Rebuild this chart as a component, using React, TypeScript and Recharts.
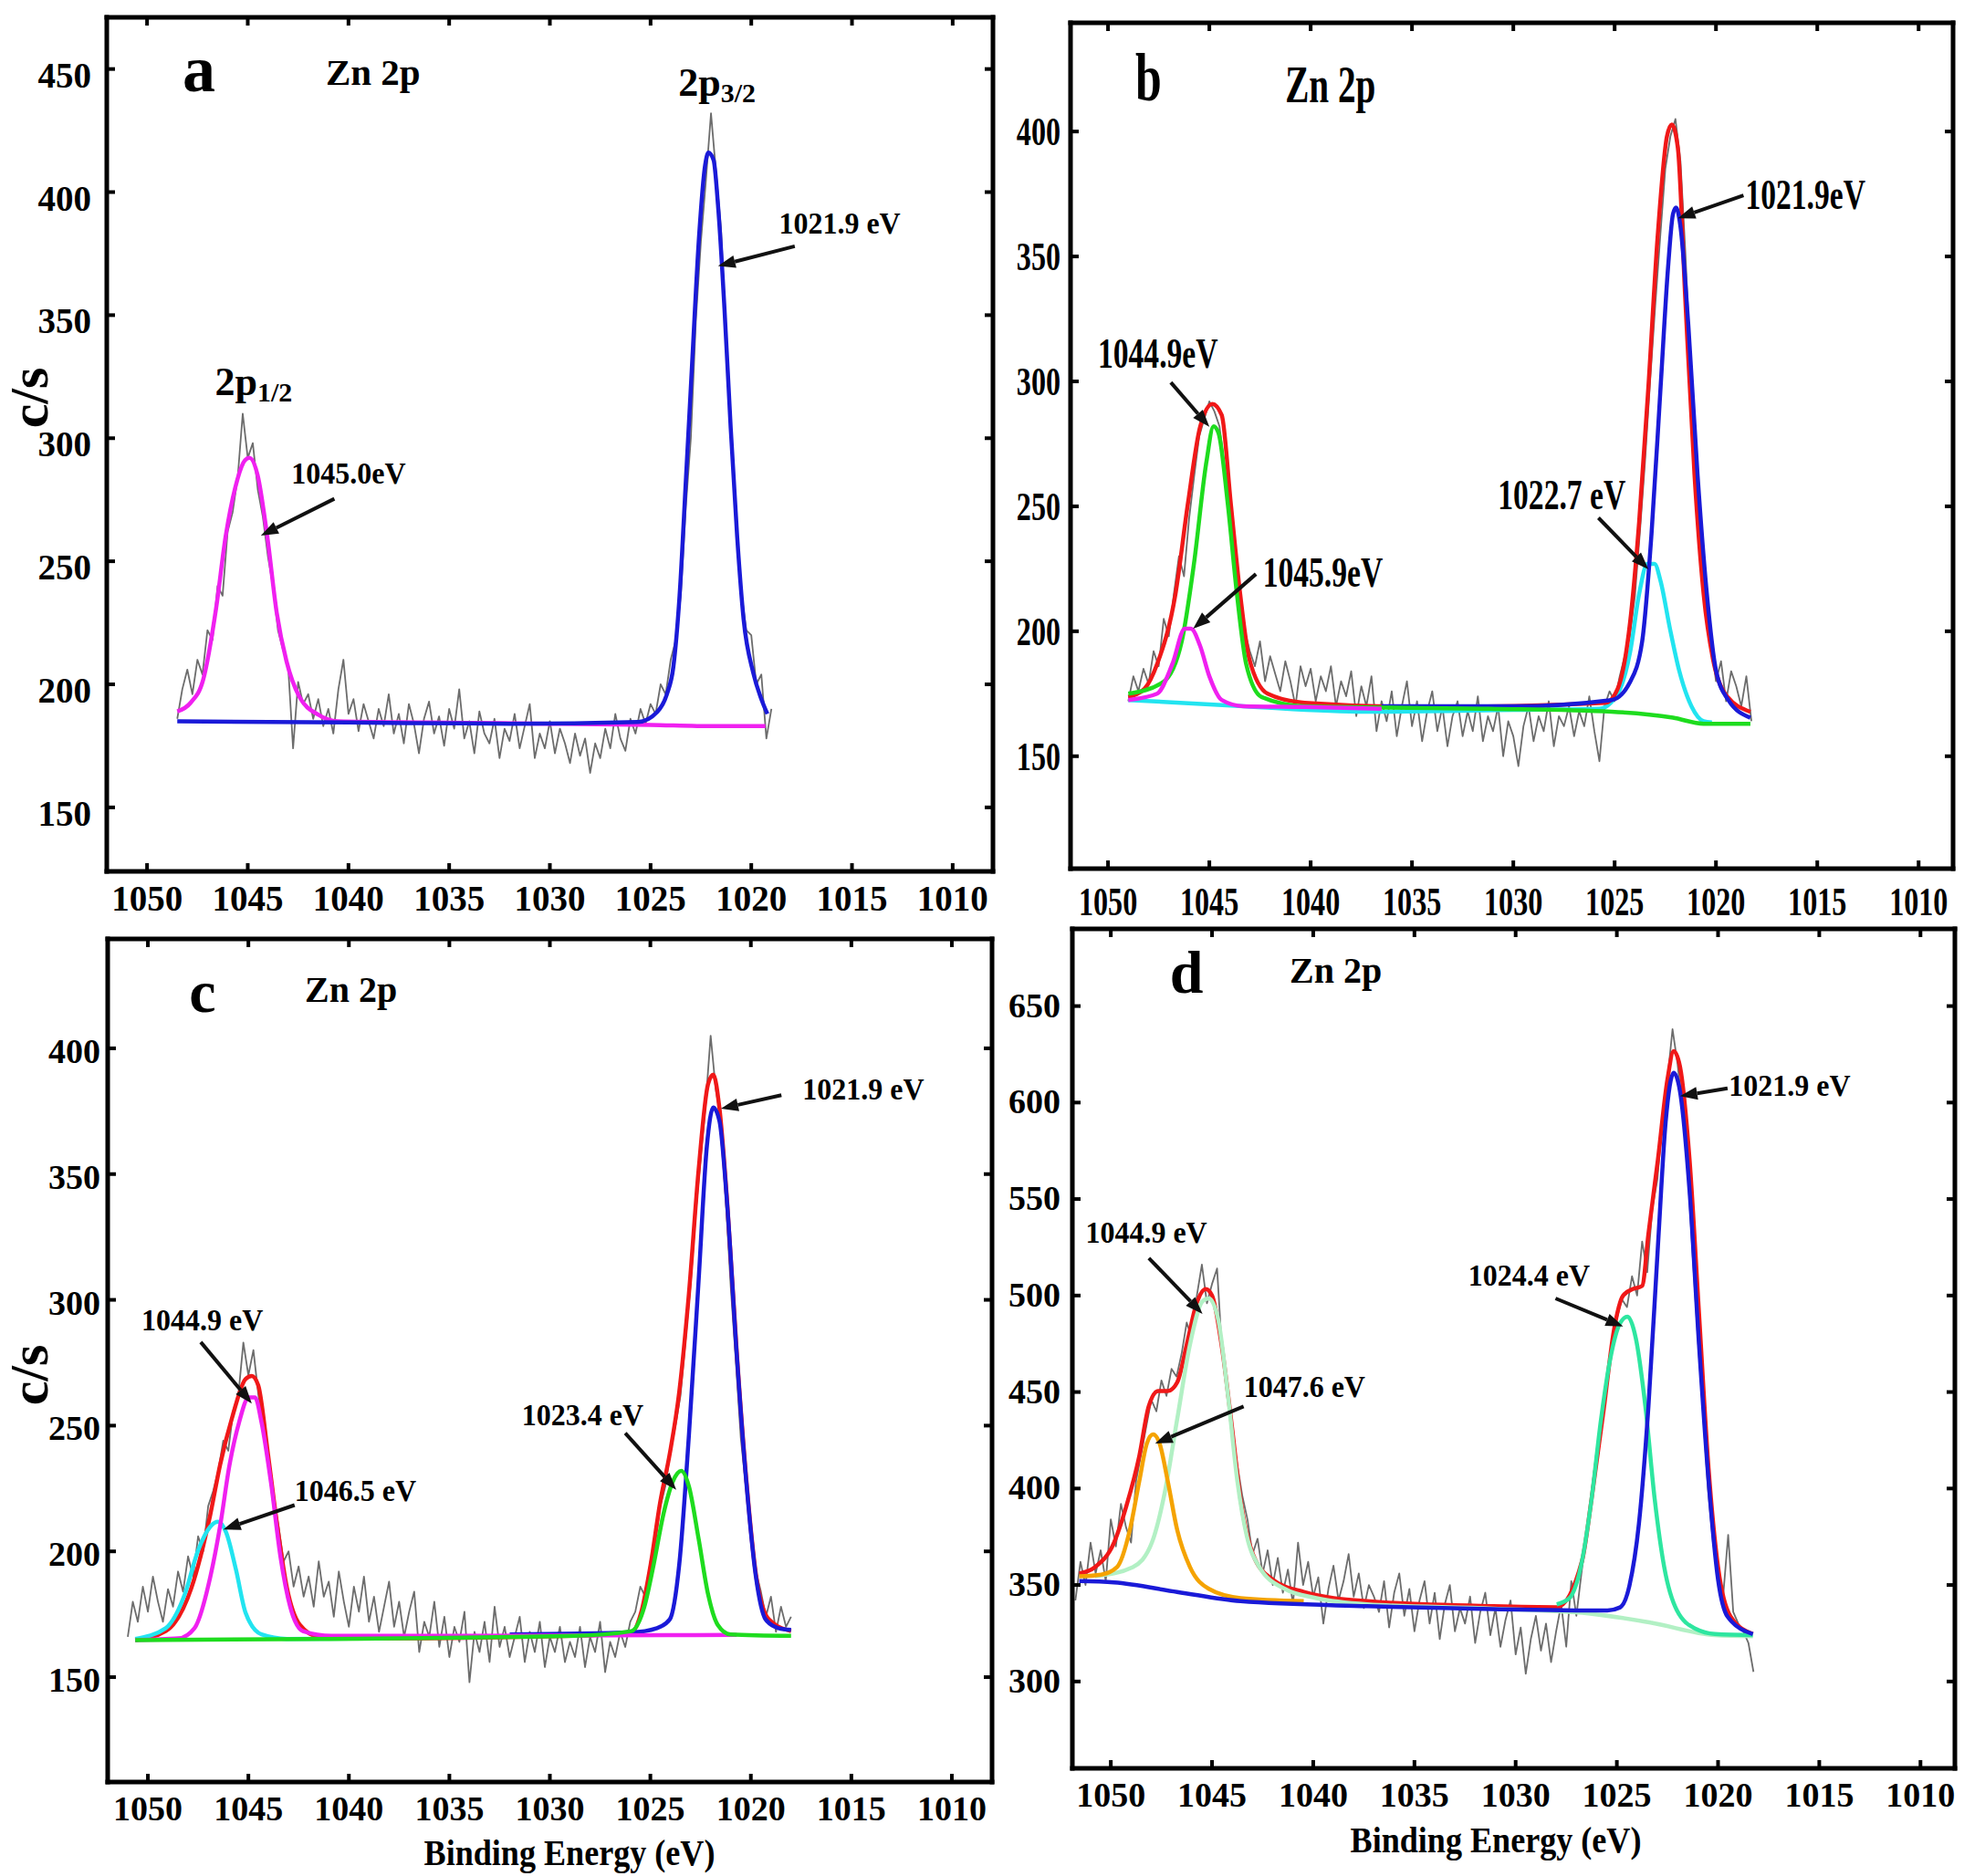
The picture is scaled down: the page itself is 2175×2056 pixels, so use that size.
import { LineChart, Line, XAxis, YAxis, ReferenceDot, ReferenceLine } from 'recharts';

// Zn 2p XPS spectra, four panels (a-d). Raw counts in grey, fitted components in colour.

type Pt = [number, number];

const X_TICKS = [1050, 1045, 1040, 1035, 1030, 1025, 1020, 1015, 1010];
const RAW_STEP = 0.25; // eV between raw channels

// ---------- panel a ----------
const A_Y_TICKS = [150, 200, 250, 300, 350, 400, 450];
const A_RAW_START = 1048.5;
const A_RAW = [
  186, 198, 206, 196, 210, 204, 222, 218, 240, 236,
  262, 270, 284, 310, 292, 298, 279, 268, 252, 240,
  222, 214, 208, 174, 201, 192, 196, 186, 194, 183,
  190, 180, 198, 210, 188, 194, 181, 192, 185, 178,
  190, 183, 196, 180, 188, 176, 192, 184, 172, 186,
  193, 180, 187, 175, 190, 182, 198, 178, 185, 172,
  189, 180, 176, 186, 170, 182, 177, 188, 174, 183,
  192, 170, 180, 174, 185, 172, 182, 176, 168, 180,
  171, 178, 164, 176, 170, 182, 174, 188, 178, 173,
  186, 180, 190, 184, 192, 188, 200, 196, 210, 218,
  236, 272, 300, 348, 380, 405, 432, 408, 385, 340,
  300, 266, 238, 222, 220, 200, 204, 178, 190,
];
const A_MAGENTA: Pt[] = [
  [1048.5, 189], [1047.84, 192.5], [1047.21, 202], [1046.57, 231], [1046.1, 260],
  [1045.62, 280], [1045.14, 291], [1044.92, 292], [1044.51, 285], [1044.03, 260],
  [1043.56, 229], [1043.08, 209.5], [1042.44, 195], [1041.49, 187.6], [1040.54, 185],
  [1036, 184.5], [1030, 184], [1025, 183.5], [1022, 183], [1019.3, 183],
];
const A_BLUE: Pt[] = [
  [1048.5, 185], [1040, 184.5], [1031.97, 184], [1025.62, 184.7], [1024.67, 188.8],
  [1024.19, 196], [1023.87, 207], [1023.56, 236], [1023.24, 284], [1022.92, 333],
  [1022.6, 381], [1022.29, 411], [1022.13, 416], [1021.87, 413], [1021.65, 394.5],
  [1021.33, 352.5], [1021.02, 304], [1020.7, 260], [1020.38, 226.4], [1019.9, 204.6],
  [1019.43, 192.5], [1019.2, 188],
];

// ---------- panel b ----------
const B_Y_TICKS = [150, 200, 250, 300, 350, 400];
const B_RAW_START = 1049.0;
const B_RAW = [
  172, 182, 176, 185, 179, 192, 186, 205, 198, 215,
  230, 222, 245, 262, 278, 285, 292, 288, 282, 266,
  250, 238, 214, 200, 192, 186, 196, 180, 190, 183,
  176, 188, 180, 170, 186, 178, 185, 172, 182, 176,
  186, 170, 180, 174, 184, 166, 178, 170, 182, 160,
  172, 164, 176, 158, 170, 180, 162, 172, 156, 168,
  176, 160, 170, 154, 166, 172, 158, 168, 160, 174,
  156, 166, 160, 170, 150, 164, 158, 146, 162, 170,
  156, 166, 160, 172, 154, 166, 162, 170, 158, 168,
  162, 174, 160, 148, 170, 176, 172, 182, 190, 198,
  214, 240, 268, 300, 330, 358, 385, 398, 405, 388,
  350, 305, 260, 230, 205, 196, 180, 188, 172, 184,
  178, 170, 182, 164,
];
const B_RED: Pt[] = [
  [1049, 173.7], [1048.2, 177], [1047.58, 186.8], [1046.67, 215], [1046.06, 251],
  [1045.45, 282], [1044.85, 291], [1044.39, 286.5], [1043.94, 251], [1043.48, 215],
  [1043.03, 189], [1042.12, 175], [1040.3, 171.4], [1034.24, 169.7], [1025.45, 171.4],
  [1024.85, 177], [1024.24, 203.4], [1023.79, 243.8], [1023.33, 298.4], [1022.88, 357.7],
  [1022.42, 398], [1022.18, 402.8], [1021.88, 393.4], [1021.52, 334], [1021.06, 262.8],
  [1020.61, 215], [1020.15, 189], [1019.55, 175], [1018.3, 167.8],
];
const B_BLUE: Pt[] = [
  [1036.5, 170], [1030, 170], [1025.15, 172.5], [1024.24, 179.7], [1023.64, 196],
  [1023.18, 239], [1022.73, 298], [1022.36, 346], [1022.12, 367], [1021.97, 369.6],
  [1021.76, 362.5], [1021.36, 322], [1020.91, 262.8], [1020.45, 215], [1020.0, 184.4],
  [1019.39, 172.5], [1018.3, 165.4],
];
const B_CYAN: Pt[] = [
  [1049, 172.5], [1043.33, 170], [1037.27, 167.8], [1030, 168.5], [1025.76, 169],
  [1024.85, 175], [1024.24, 191.5], [1023.79, 215], [1023.39, 227], [1023.03, 227],
  [1022.73, 220], [1022.27, 201], [1021.82, 184.4], [1021.21, 170], [1020.61, 164],
  [1020.2, 163.5],
];
const B_GREEN: Pt[] = [
  [1049, 175], [1047.27, 179.7], [1046.36, 196], [1045.76, 227], [1045.15, 267.5],
  [1044.79, 282], [1044.55, 279.4], [1044.09, 251], [1043.64, 215], [1043.18, 186.8],
  [1042.42, 173.7], [1040.3, 170], [1031.21, 169], [1025.15, 167.8], [1022.12, 165.4],
  [1020.61, 163], [1018.3, 163],
];
const B_MAGENTA: Pt[] = [
  [1049, 172.5], [1047.58, 175], [1046.82, 187], [1046.21, 201], [1045.91, 201],
  [1045.45, 194], [1045.0, 182], [1044.39, 172.5], [1043.33, 170], [1040.3, 169.7],
  [1036.5, 169],
];

// ---------- panel c ----------
const C_Y_TICKS = [150, 200, 250, 300, 350, 400];
const C_RAW_START = 1051.0;
const C_RAW = [
  166, 180, 172, 186, 176, 190, 180, 172, 185, 178,
  192, 184, 198, 190, 206, 200, 218, 224, 232, 244,
  240, 256, 262, 283, 270, 280, 262, 250, 238, 222,
  210, 196, 200, 186, 194, 182, 190, 178, 196, 182,
  188, 174, 192, 180, 170, 186, 176, 190, 172, 182,
  168, 178, 188, 170, 180, 166, 176, 184, 160, 172,
  166, 180, 162, 174, 158, 170, 164, 176, 148, 168,
  160, 172, 156, 178, 162, 170, 158, 166, 174, 156,
  168, 160, 172, 154, 166, 160, 170, 156, 164, 158,
  170, 154, 166, 160, 172, 152, 164, 158, 168, 162,
  172, 176, 186, 182, 196, 204, 218, 226, 240, 250,
  262, 284, 306, 334, 356, 378, 405, 384, 372, 340,
  305, 276, 245, 226, 205, 192, 184, 174, 182, 168,
  178, 170, 174,
];
const C_RED: Pt[] = [
  [1050.63, 164.7], [1049.11, 168.3], [1047.84, 185.4], [1046.89, 214.8], [1046.41, 234.3],
  [1045.78, 254], [1045.14, 268.5], [1044.83, 269.7], [1044.51, 266], [1044.03, 239],
  [1043.56, 210], [1043.08, 185.4], [1042.44, 170.8], [1041.49, 166], [1038.32, 165.4],
  [1028.79, 166.4], [1025.94, 167.8], [1025.46, 175.6], [1024.98, 195], [1024.51, 219.6],
  [1024.03, 239], [1023.56, 263.6], [1023.08, 302.7], [1022.6, 351.6], [1022.13, 385.8],
  [1021.87, 389.5], [1021.56, 376], [1021.17, 338], [1020.7, 279], [1020.22, 228],
  [1019.75, 191], [1019.11, 173], [1018.0, 168.3],
];
const C_BLUE: Pt[] = [
  [1032, 167], [1025.94, 167.8], [1024.67, 169.5], [1024.03, 173], [1023.56, 195],
  [1023.08, 246.5], [1022.6, 307.6], [1022.19, 361], [1021.87, 376.5], [1021.56, 371],
  [1021.17, 337], [1020.7, 278], [1020.22, 227], [1019.75, 190], [1019.27, 173],
  [1018.63, 169.5], [1018.0, 168.8],
];
const C_GREEN: Pt[] = [
  [1050.63, 164.7], [1041.49, 165.2], [1028.79, 166.4], [1025.94, 168.3], [1025.3, 178],
  [1024.83, 195], [1024.35, 214.8], [1023.87, 228], [1023.46, 232], [1023.08, 225.8],
  [1022.6, 205], [1022.13, 183], [1021.65, 170.8], [1021.02, 167], [1018.0, 166.4],
];
const C_MAGENTA: Pt[] = [
  [1050.63, 164.7], [1048.48, 165.4], [1047.68, 169.5], [1046.89, 190], [1046.41, 209.9],
  [1045.94, 234.3], [1045.46, 251.4], [1044.98, 261.2], [1044.67, 261.2], [1044.35, 251.4],
  [1043.87, 227], [1043.4, 197.7], [1042.92, 178], [1042.29, 168.3], [1040.86, 166.4],
  [1030, 166.5], [1020.7, 166.8],
];
const C_CYAN: Pt[] = [
  [1050.63, 165.2], [1049.11, 169.5], [1048.16, 183], [1047.52, 200], [1046.89, 209.9],
  [1046.51, 211.8], [1046.1, 207.4], [1045.62, 192.8], [1045.14, 175.6], [1044.35, 167],
  [1043.08, 165.2], [1038.32, 165.4],
];

// ---------- panel d ----------
const D_Y_TICKS = [300, 350, 400, 450, 500, 550, 600, 650];
const D_RAW_START = 1051.75;
const D_RAW = [
  342, 362, 350, 372, 356, 368, 352, 384, 370, 392,
  380, 372, 404, 418, 432, 446, 440, 456, 448, 462,
  458, 470, 486, 478, 500, 516, 496, 506, 514, 470,
  448, 430, 412, 396, 384, 366, 374, 356, 368, 350,
  364, 346, 358, 340, 372, 350, 362, 344, 354, 330,
  348, 360, 342, 352, 366, 344, 356, 338, 350, 344,
  336, 352, 328, 346, 356, 334, 348, 326, 342, 352,
  330, 346, 322, 340, 350, 326, 338, 330, 344, 320,
  336, 346, 324, 338, 318, 332, 342, 314, 328, 304,
  322, 334, 316, 330, 310, 326, 340, 318, 352, 334,
  356, 376, 398, 420, 436, 458, 470, 488, 498, 494,
  510, 500, 528, 512, 545, 560, 590, 612, 638, 620,
  596, 565, 520, 478, 440, 400, 372, 356, 344, 376,
  336, 330, 326, 320, 305,
];
const D_RED: Pt[] = [
  [1051.56, 356], [1050.78, 359.3], [1049.84, 372], [1049.22, 391.3], [1048.59, 417],
  [1048.13, 442.5], [1047.66, 450.5], [1047.19, 450.5], [1046.72, 455], [1046.25, 474.5],
  [1045.78, 495.3], [1045.31, 503.3], [1045.0, 500], [1044.53, 474.5], [1044.06, 436],
  [1043.59, 394.5], [1042.97, 365.7], [1042.03, 353], [1040.47, 346.4], [1037.34, 341.6],
  [1031.1, 339], [1027.97, 338.5], [1026.72, 362.5], [1026.25, 394.5], [1025.63, 442.5],
  [1025.16, 481], [1024.69, 500], [1024.22, 503.3], [1023.75, 505], [1023.44, 532],
  [1022.97, 570.6], [1022.5, 612], [1022.19, 626.6], [1021.88, 618.6], [1021.41, 570.6],
  [1020.94, 490.5], [1020.47, 410.5], [1020.0, 359.3], [1019.38, 333.6], [1018.28, 324.6],
];
const D_BLUE: Pt[] = [
  [1051.56, 352], [1049.84, 351.3], [1046.72, 346.4], [1043.59, 341.6], [1037.34, 339],
  [1031.1, 337.5], [1025.47, 336.8], [1024.84, 338.4], [1024.38, 349.6], [1023.91, 381.7],
  [1023.44, 442.5], [1022.97, 525.8], [1022.59, 589.8], [1022.19, 615.4], [1021.88, 605.8],
  [1021.41, 554.6], [1020.94, 474.5], [1020.47, 404], [1020.0, 352.8], [1019.53, 333.6],
  [1018.28, 324.6],
];
const D_SPRING: Pt[] = [
  [1027.97, 340], [1027.34, 343.2], [1026.72, 362.5], [1026.25, 394.5], [1025.78, 436],
  [1025.31, 468], [1024.84, 485.7], [1024.47, 489], [1024.06, 477.7], [1023.59, 442.5],
  [1023.13, 394.5], [1022.66, 359.3], [1022.03, 336.8], [1021.09, 327.2], [1020.16, 324.6],
  [1018.28, 324],
];
const D_PALE: Pt[] = [
  [1050.78, 354.5], [1048.91, 359.3], [1047.97, 372], [1047.34, 397.7], [1046.72, 436],
  [1046.09, 474.5], [1045.47, 497], [1045.16, 498.5], [1044.69, 487.3], [1044.22, 449],
  [1043.75, 404], [1043.28, 375.3], [1042.66, 359.3], [1041.41, 348], [1039.84, 343.2],
  [1037.34, 340], [1031.1, 337.8], [1026.41, 335.3], [1023.28, 330.4], [1020.16, 324],
  [1018.28, 323.4],
];
const D_ORANGE: Pt[] = [
  [1051.56, 354.5], [1050.47, 355.4], [1049.69, 359.3], [1049.06, 378.5], [1048.59, 404],
  [1048.22, 423.3], [1047.91, 428], [1047.59, 423.3], [1047.19, 404], [1046.72, 378.5],
  [1046.09, 359.3], [1045.16, 348], [1043.59, 343.2], [1040.47, 341.6],
];

// ---------- annotations (data coordinates) ----------
interface Note { label: string; at: Pt; tail: Pt; head: Pt }
interface Title { text: string; at: Pt; size: number; anchor: 'start' | 'middle'; sub?: string }

const A_NOTES: Note[] = [
  { label: '1021.9 eV', at: [1018.63, 383.3], tail: [1017.84, 378], head: [1021.65, 370] },
  { label: '1045.0eV', at: [1042.83, 281.7], tail: [1040.7, 275.4], head: [1044.35, 260.4] },
];
const B_NOTES: Note[] = [
  { label: '1021.9eV', at: [1018.55, 369], tail: [1018.64, 374.4], head: [1021.88, 365.3] },
  { label: '1044.9eV', at: [1050.5, 305.5], tail: [1046.9, 299.6], head: [1045.0, 281.8] },
  { label: '1045.9eV', at: [1042.36, 217.7], tail: [1042.7, 222.9], head: [1045.8, 201] },
  { label: '1022.7 eV', at: [1030.76, 249], tail: [1025.8, 245.4], head: [1023.33, 224.8] },
];
const C_NOTES: Note[] = [
  { label: '1021.9 eV', at: [1017.43, 379.7], tail: [1018.48, 381.4], head: [1021.49, 376] },
  { label: '1044.9 eV', at: [1050.32, 288], tail: [1047.37, 283.2], head: [1044.83, 258.8] },
  { label: '1046.5 eV', at: [1042.7, 220], tail: [1042.7, 218.4], head: [1046.25, 208.7] },
  { label: '1023.4 eV', at: [1031.4, 250.2], tail: [1026.25, 247], head: [1023.71, 224.5] },
];
const D_NOTES: Note[] = [
  { label: '1021.9 eV', at: [1019.47, 603.3], tail: [1019.53, 607.4], head: [1021.88, 603.3] },
  { label: '1044.9 eV', at: [1051.25, 527.4], tail: [1048.12, 519.4], head: [1045.47, 490.5] },
  { label: '1047.6 eV', at: [1043.44, 447.3], tail: [1043.44, 442.5], head: [1047.81, 423.3] },
  { label: '1024.4 eV', at: [1032.34, 505], tail: [1028.03, 498.5], head: [1024.69, 484] },
];

const A_TITLES: Title[] = [
  { text: 'a', at: [1047.42, 441], size: 72, anchor: 'middle' },
  { text: 'Zn 2p', at: [1041.13, 443.6], size: 41, anchor: 'start' },
  { text: '2p', sub: '3/2', at: [1023.62, 439], size: 44, anchor: 'start' },
  { text: '2p', sub: '1/2', at: [1046.63, 317.4], size: 44, anchor: 'start' },
];
const B_TITLES: Title[] = [
  { text: 'b', at: [1048.0, 412.5], size: 74, anchor: 'middle' },
  { text: 'Zn 2p', at: [1041.26, 411.7], size: 56, anchor: 'start' },
];
const C_TITLES: Title[] = [
  { text: 'c', at: [1047.28, 414.5], size: 66, anchor: 'middle' },
  { text: 'Zn 2p', at: [1042.19, 418.5], size: 40, anchor: 'start' },
];
const D_TITLES: Title[] = [
  { text: 'd', at: [1046.26, 656.9], size: 66, anchor: 'middle' },
  { text: 'Zn 2p', at: [1041.17, 662.1], size: 40, anchor: 'start' },
];

// ---------- styling ----------
const SERIF = '"Liberation Serif", "Times New Roman", Times, serif';
const INK = '#000';
const GRAY = '#6c6c6c';
const RED = '#f01818';
const BLUE = '#1a1ad8';
const MAGENTA = '#f020f0';
const CYAN = '#22e4f0';
const GREEN = '#1edc1e';
const SPRING = '#2ee6a0';
const PALE = '#b2f0c4';
const ORANGE = '#f5a300';
const TICK_LEN = 9;
const YW = 130;
const XH = 100;
const PAD = 6;
const FIT_W = 4.5;

const raw = (start: number, ys: number[]) =>
  ys.map((y, i) => ({ x: +(start - i * RAW_STEP).toFixed(2), y }));
const fit = (pts: Pt[]) => pts.map(([x, y]) => ({ x, y }));

interface TickFont { size: number; sx: number; xBase: number; yGap: number; yOff: number }
interface Series { data: { x: number; y: number }[]; color: string; width: number; curve: 'linear' | 'monotone' }
interface PanelSpec {
  box: [number, number, number, number];
  xDomain: [number, number];
  yDomain: [number, number];
  yTicks: number[];
  tick: TickFont;
  note: { size: number; sx: number };
  titleSx: number;
  series: Series[];
  notes: Note[];
  titles: Title[];
}

const grey = (start: number, ys: number[]): Series => ({ data: raw(start, ys), color: GRAY, width: 1.8, curve: 'linear' });
const comp = (pts: Pt[], color: string): Series => ({ data: fit(pts), color, width: FIT_W, curve: 'monotone' });

const PANELS: PanelSpec[] = [
  {
    box: [117, 19, 1088, 955],
    xDomain: [1008.0, 1052.0],
    yDomain: [124, 471],
    yTicks: A_Y_TICKS,
    tick: { size: 39, sx: 1, xBase: 43, yGap: 17, yOff: 20 },
    note: { size: 33, sx: 0.97 },
    titleSx: 1,
    series: [grey(A_RAW_START, A_RAW), comp(A_MAGENTA, MAGENTA), comp(A_BLUE, BLUE)],
    notes: A_NOTES,
    titles: A_TITLES,
  },
  {
    box: [1173, 25, 2140, 952],
    xDomain: [1008.3, 1051.85],
    yDomain: [105, 443.5],
    yTicks: B_Y_TICKS,
    tick: { size: 44, sx: 0.73, xBase: 51, yGap: 11, yOff: 15 },
    note: { size: 46, sx: 0.73 },
    titleSx: 0.7,
    series: [
      grey(B_RAW_START, B_RAW), comp(B_CYAN, CYAN), comp(B_RED, RED), comp(B_BLUE, BLUE),
      comp(B_GREEN, GREEN), comp(B_MAGENTA, MAGENTA),
    ],
    notes: B_NOTES,
    titles: B_TITLES,
  },
  {
    box: [118, 1029, 1087, 1953],
    xDomain: [1008.0, 1052.0],
    yDomain: [108.3, 443.5],
    yTicks: C_Y_TICKS,
    tick: { size: 38, sx: 1, xBase: 42, yGap: 8, yOff: 16 },
    note: { size: 33, sx: 0.97 },
    titleSx: 1,
    series: [
      grey(C_RAW_START, C_RAW), comp(C_RED, RED), comp(C_BLUE, BLUE), comp(C_CYAN, CYAN),
      comp(C_MAGENTA, MAGENTA), comp(C_GREEN, GREEN),
    ],
    notes: C_NOTES,
    titles: C_TITLES,
  },
  {
    box: [1175, 1018, 2142, 1938],
    xDomain: [1008.3, 1051.9],
    yDomain: [255, 690],
    yTicks: D_Y_TICKS,
    tick: { size: 38, sx: 1, xBase: 42, yGap: 13, yOff: 12 },
    note: { size: 33, sx: 0.97 },
    titleSx: 1,
    series: [
      grey(D_RAW_START, D_RAW), comp(D_RED, RED), comp(D_PALE, PALE), comp(D_ORANGE, ORANGE),
      comp(D_SPRING, SPRING), comp(D_BLUE, BLUE),
    ],
    notes: D_NOTES,
    titles: D_TITLES,
  },
];

const frame = { stroke: INK, strokeWidth: 5, strokeLinecap: 'square' as const };

const label = (x: number, y: number, sx: number, size: number, anchor: string, text: string) => (
  <text
    transform={`translate(${x},${y}) scale(${sx},1)`}
    textAnchor={anchor}
    fontFamily={SERIF}
    fontWeight="bold"
    fontSize={size}
    fill={INK}
  >
    {text}
  </text>
);

const bottomTick = (f: TickFont) => (p: any) => (
  <g>
    <line x1={p.x} y1={p.y} x2={p.x} y2={p.y - TICK_LEN} stroke={INK} strokeWidth={4} />
    {label(p.x, p.y + f.xBase, f.sx, f.size, 'middle', String(p.payload.value))}
  </g>
);
const leftTick = (f: TickFont) => (p: any) => (
  <g>
    <line x1={p.x} y1={p.y} x2={p.x + TICK_LEN} y2={p.y} stroke={INK} strokeWidth={4} />
    {label(p.x - f.yGap, p.y + f.yOff, f.sx, f.size, 'end', String(p.payload.value))}
  </g>
);
// mirrored ticks on the top and right edges of the frame
const topTickMark = (p: any) => (
  <line x1={p.cx} y1={p.cy} x2={p.cx} y2={p.cy + TICK_LEN} stroke={INK} strokeWidth={4} />
);
const rightTickMark = (p: any) => (
  <line x1={p.cx} y1={p.cy} x2={p.cx - TICK_LEN} y2={p.cy} stroke={INK} strokeWidth={4} />
);

const arrowShape = (p: any) => {
  const { x1, y1, x2, y2 } = p;
  const ang = Math.atan2(y2 - y1, x2 - x1);
  const len = 19;
  const half = 7;
  const bx = x2 - len * Math.cos(ang);
  const by = y2 - len * Math.sin(ang);
  const nx = -Math.sin(ang) * half;
  const ny = Math.cos(ang) * half;
  return (
    <g>
      <line x1={x1} y1={y1} x2={bx} y2={by} stroke="#111" strokeWidth={4} />
      <polygon points={`${x2},${y2} ${bx + nx},${by + ny} ${bx - nx},${by - ny}`} fill="#111" />
    </g>
  );
};

const titleShape = (t: Title, sx: number) => (p: any) => (
  <text
    transform={`translate(${p.cx},${p.cy}) scale(${sx},1)`}
    textAnchor={t.anchor}
    fontFamily={SERIF}
    fontWeight="bold"
    fontSize={t.size}
    fill={INK}
  >
    {t.text}
    {t.sub && (
      <tspan fontSize={t.size * 0.68} dy={t.size * 0.16}>
        {t.sub}
      </tspan>
    )}
  </text>
);

const noteShape = (n: Note, f: { size: number; sx: number }) => (p: any) =>
  label(p.cx, p.cy, f.sx, f.size, 'start', n.label);

function Panel({ spec }: { spec: PanelSpec }) {
  const [l, t, r, b] = spec.box;
  const w = r - l + YW + PAD;
  const h = b - t + XH + PAD;
  const xRight = spec.xDomain[0]; // axis is reversed: low energy on the right
  const yTop = spec.yDomain[1];
  return (
    <div style={{ position: 'absolute', left: l - YW, top: t - PAD }}>
      <LineChart width={w} height={h} margin={{ top: PAD, right: PAD, bottom: 0, left: 0 }}>
        <XAxis
          dataKey="x"
          type="number"
          domain={spec.xDomain}
          reversed
          allowDataOverflow
          ticks={X_TICKS}
          interval={0}
          height={XH}
          tickLine={false}
          tickSize={0}
          tickMargin={0}
          axisLine={frame}
          tick={bottomTick(spec.tick)}
        />
        <YAxis
          type="number"
          domain={spec.yDomain}
          allowDataOverflow
          ticks={spec.yTicks}
          interval={0}
          width={YW}
          tickLine={false}
          tickSize={0}
          tickMargin={0}
          axisLine={frame}
          tick={leftTick(spec.tick)}
        />
        {spec.series.map((s, i) => (
          <Line
            key={i}
            data={s.data}
            dataKey="y"
            type={s.curve}
            stroke={s.color}
            strokeWidth={s.width}
            strokeLinejoin="round"
            dot={false}
            activeDot={false}
            isAnimationActive={false}
          />
        ))}
        <ReferenceLine y={yTop} ifOverflow="visible" stroke={INK} strokeWidth={5} strokeLinecap="square" />
        <ReferenceLine x={xRight} ifOverflow="visible" stroke={INK} strokeWidth={5} strokeLinecap="square" />
        {X_TICKS.map((v) => (
          <ReferenceDot key={`tt-${v}`} x={v} y={yTop} r={0} ifOverflow="visible" shape={topTickMark} />
        ))}
        {spec.yTicks.map((v) => (
          <ReferenceDot key={`rt-${v}`} x={xRight} y={v} r={0} ifOverflow="visible" shape={rightTickMark} />
        ))}
        {spec.notes.map((n, i) => (
          <ReferenceLine
            key={`arrow-${i}`}
            segment={[{ x: n.tail[0], y: n.tail[1] }, { x: n.head[0], y: n.head[1] }]}
            ifOverflow="visible"
            shape={arrowShape}
          />
        ))}
        {spec.notes.map((n, i) => (
          <ReferenceDot
            key={`note-${i}`}
            x={n.at[0]}
            y={n.at[1]}
            r={0}
            ifOverflow="visible"
            shape={noteShape(n, spec.note)}
          />
        ))}
        {spec.titles.map((tt, i) => (
          <ReferenceDot
            key={`title-${i}`}
            x={tt.at[0]}
            y={tt.at[1]}
            r={0}
            ifOverflow="visible"
            shape={titleShape(tt, spec.titleSx)}
          />
        ))}
      </LineChart>
    </div>
  );
}

export default function App() {
  return (
    <div style={{ position: 'absolute', left: 0, top: 0, width: 2175, height: 2056, background: '#fff' }}>
      {PANELS.map((p, i) => (
        <Panel key={i} spec={p} />
      ))}
      <svg width={2175} height={2056} style={{ position: 'absolute', left: 0, top: 0, pointerEvents: 'none' }}>
        <g fontFamily={SERIF} fontWeight="bold" fill={INK}>
          <text transform="translate(52,436) rotate(-90)" textAnchor="middle" fontSize={60}>c/s</text>
          <text transform="translate(52,1507) rotate(-90)" textAnchor="middle" fontSize={60}>c/s</text>
          <text transform="translate(624,2044) scale(0.95,1.06)" textAnchor="middle" fontSize={38}>Binding Energy (eV)</text>
          <text transform="translate(1639,2030) scale(0.95,1.06)" textAnchor="middle" fontSize={38}>Binding Energy (eV)</text>
        </g>
      </svg>
    </div>
  );
}
